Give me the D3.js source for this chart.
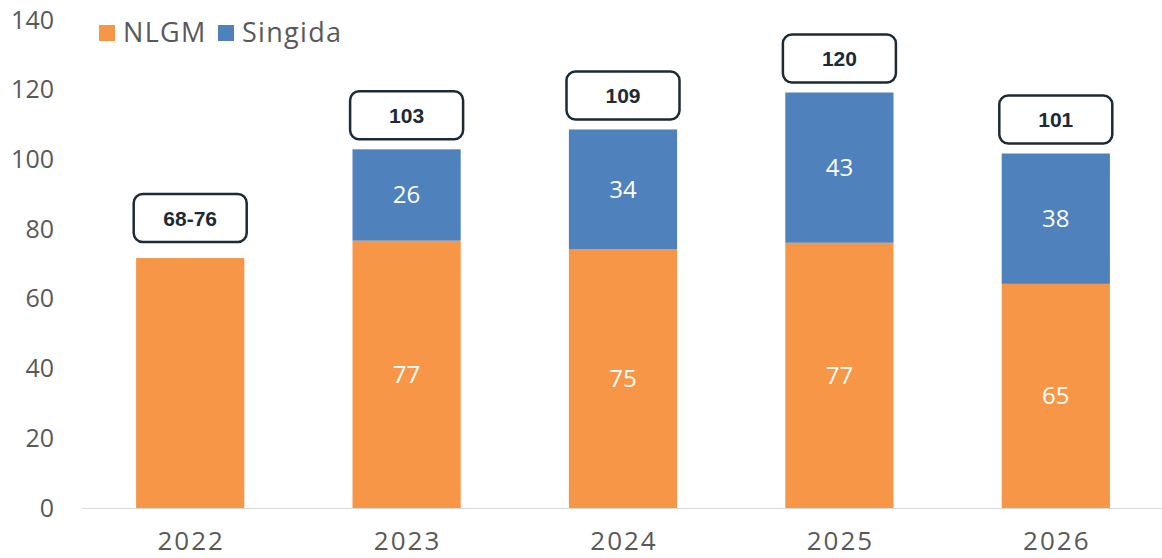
<!DOCTYPE html>
<html>
<head>
<meta charset="utf-8">
<script src="https://cdn.jsdelivr.net/npm/d3@7"></script>
<style>
  body { margin: 0; background: #fff; }
  text { font-family: "Open Sans", sans-serif; }
</style>
</head>
<body>
<div id="chart"></div>
<script>
var years = ['2022', '2023', '2024', '2025', '2026'];
var nlgm = [71.7, 76.7, 74.3, 76.1, 64.3];
var singida = [0, 26.2, 34.3, 43.1, 37.4];
var nlgmLabels = ['', '77', '75', '77', '65'];
var singidaLabels = ['', '26', '34', '43', '38'];
var totalLabels = ['68-76', '103', '109', '120', '101'];
var yTicks = [0, 20, 40, 60, 80, 100, 120, 140];
var seriesNames = ['NLGM', 'Singida'];
var colors = ['#f79646', '#4f81bd'];

var w = 1162, h = 558;
var svg = d3.select('#chart').append('svg')
  .attr('width', w)
  .attr('height', h);

var x = d3.scaleBand()
  .domain(years)
  .range([82, 1164])
  .paddingInner(0.5)
  .paddingOuter(0.25);

var y = d3.scaleLinear()
  .domain([0, 140])
  .range([508, 20]);

// y tick labels, no axis line
var yAxis = svg.append('g')
  .attr('transform', 'translate(54,0)')
  .call(d3.axisLeft(y).tickValues(yTicks).tickSize(0).tickPadding(0));
yAxis.select('.domain').remove();
yAxis.selectAll('text')
  .attr('font-size', 25)
  .attr('fill', '#595959')
  .style('font-family', '"Open Sans", sans-serif');

// stacked bars
years.forEach(function(yr, i) {
  svg.append('rect')
    .attr('x', x(yr))
    .attr('width', x.bandwidth())
    .attr('y', y(nlgm[i]))
    .attr('height', y(0) - y(nlgm[i]))
    .attr('fill', colors[0]);

  if (singida[i] > 0) {
    svg.append('rect')
      .attr('x', x(yr))
      .attr('width', x.bandwidth())
      .attr('y', y(nlgm[i] + singida[i]))
      .attr('height', y(nlgm[i]) - y(nlgm[i] + singida[i]))
      .attr('fill', colors[1]);
  }

  var cx = x(yr) + x.bandwidth() / 2;
  if (nlgmLabels[i]) {
    svg.append('text')
      .attr('x', cx)
      .attr('y', (y(0) + y(nlgm[i])) / 2)
      .attr('dy', '0.35em')
      .attr('text-anchor', 'middle')
      .attr('font-size', 24)
      .attr('fill', '#fff')
      .text(nlgmLabels[i]);
  }
  if (singidaLabels[i]) {
    svg.append('text')
      .attr('x', cx)
      .attr('y', (y(nlgm[i]) + y(nlgm[i] + singida[i])) / 2)
      .attr('dy', '0.35em')
      .attr('text-anchor', 'middle')
      .attr('font-size', 24)
      .attr('fill', '#fff')
      .text(singidaLabels[i]);
  }

  // total callout box, range labels sit a bit higher
  var boxW = 113, boxH = 48;
  var gap = totalLabels[i].indexOf('-') > 0 ? 16 : 10;
  var boxBottom = y(nlgm[i] + singida[i]) - gap;
  svg.append('rect')
    .attr('x', cx - boxW / 2)
    .attr('y', boxBottom - boxH)
    .attr('width', boxW)
    .attr('height', boxH)
    .attr('rx', 9)
    .attr('fill', '#fff')
    .attr('stroke', '#1c2a36')
    .attr('stroke-width', 2.5);
  svg.append('text')
    .attr('x', cx)
    .attr('y', boxBottom - boxH / 2)
    .attr('dy', '0.36em')
    .attr('text-anchor', 'middle')
    .attr('font-size', 21)
    .attr('font-weight', 'bold')
    .attr('fill', '#1c2a36')
    .style('font-family', '"Liberation Sans", Arial, sans-serif')
    .text(totalLabels[i]);
});

// x axis baseline and labels
var xAxis = svg.append('g')
  .attr('transform', 'translate(0,' + y(0) + ')')
  .call(d3.axisBottom(x).tickSize(0).tickPadding(24));
xAxis.select('.domain')
  .attr('d', 'M82,0.5H1162')
  .attr('stroke', '#d9d9d9');
xAxis.selectAll('text')
  .attr('font-size', 26)
  .attr('fill', '#595959')
  .attr('letter-spacing', 2)
  .attr('dx', 1)
  .style('font-family', '"Open Sans", sans-serif');

// legend
var legend = svg.append('g');
var lx = [99, 218];
seriesNames.forEach(function(name, i) {
  legend.append('rect')
    .attr('x', lx[i])
    .attr('y', 25)
    .attr('width', 16)
    .attr('height', 16)
    .attr('fill', colors[i]);
  legend.append('text')
    .attr('x', lx[i] + 24)
    .attr('y', 42)
    .attr('font-size', 27)
    .attr('letter-spacing', 1.3)
    .attr('fill', '#595959')
    .text(name);
});
</script>
</body>
</html>
